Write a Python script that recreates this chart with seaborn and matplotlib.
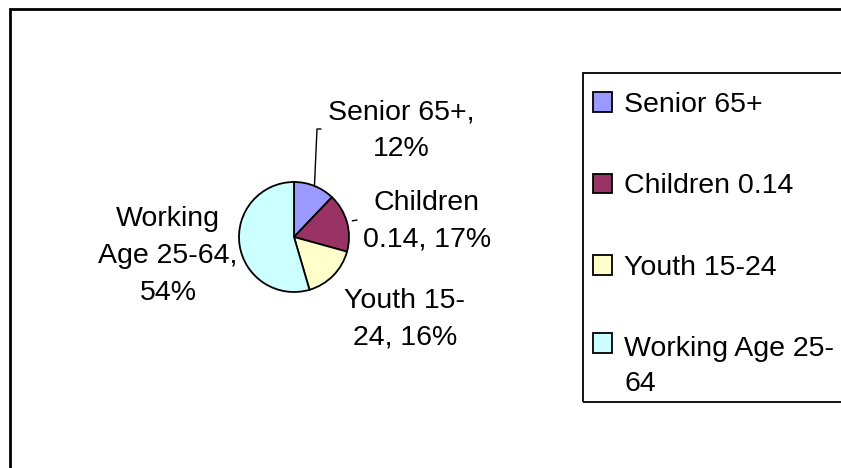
import matplotlib

matplotlib.use("Agg")
import matplotlib.pyplot as plt
import numpy as np
import seaborn as sns
from matplotlib.legend_handler import HandlerPatch
from matplotlib.patches import Rectangle

# population share by age group
groups = ["Senior 65+", "Children 0.14", "Youth 15-24", "Working Age 25-64"]
shares = [12, 17, 16, 54]
slice_labels = ["Senior 65+,\n12%", "Children\n0.14, 17%", "Youth 15-\n24, 16%", "Working\nAge 25-64,\n54%"]
legend_labels = ["Senior 65+", "Children 0.14", "Youth 15-24", "Working Age 25-\n64"]
colors = ["#9999FF", "#993366", "#FFFFCC", "#CCFFFF"]

sns.set_theme(style="white")
plt.rcParams["font.family"] = ["Liberation Sans", "DejaVu Sans"]

W, H = 841, 468
FS = 20.5
fig = plt.figure(figsize=(W / 100, H / 100), dpi=100)
ax = fig.add_axes([0, 0, 1, 1])

cx, cy, r = 294, H - 237, 55
wedges, _ = ax.pie(shares, colors=colors, startangle=90, counterclock=False,
                   center=(cx, cy), radius=r,
                   wedgeprops=dict(edgecolor="black", linewidth=1.3))
ax.set_xlim(0, W)
ax.set_ylim(0, H)
ax.set_aspect("auto")
ax.axis("off")

# data labels (text block centres, y measured from the top)
label_pos = [(401, 131), (427, 221), (405, 319), (168, 256)]
for text, (x, y) in zip(slice_labels, label_pos):
    ax.text(x, H - y, text, ha="center", va="center", fontsize=FS,
            linespacing=1.55, color="black")


def edge_point(w, scale=1.0):
    mid = np.deg2rad((w.theta1 + w.theta2) / 2)
    return cx + scale * r * np.cos(mid), cy + scale * r * np.sin(mid)


# leader lines
x0, y0 = edge_point(wedges[0])
ax.plot([x0, 317, 317, 321], [y0, H - 129, H - 129, H - 129], color="black", lw=1)
x1, y1 = edge_point(wedges[1], 1.1)
ax.plot([x1, 357], [y1, H - 220], color="black", lw=1)

# outer chart border (runs off the right and bottom edges)
ax.add_patch(Rectangle((10, -20), W + 20, H - 9 + 20, fill=False,
                       edgecolor="black", lw=2, clip_on=False))
# legend box, also cut off by the right edge
ax.add_patch(Rectangle((583, H - 402), 300, 402 - 73, fill=False,
                       edgecolor="black", lw=1.3, clip_on=False))


def top_line_square(legend, orig_handle, xdescent, ydescent, width, height, fontsize):
    # keep the key square level with the first line of a wrapped label
    n_lines = orig_handle.get_label().count("\n") + 1
    shift = 0.5 * (n_lines - 1) * 1.45 * fontsize * 1.15
    return Rectangle((-xdescent, -ydescent + shift), width, height)


for w, lab in zip(wedges, legend_labels):
    w.set_label(lab)

leg = ax.legend(handles=wedges, loc="upper left",
                bbox_to_anchor=(580 / W, 1 - 79 / H), bbox_transform=fig.transFigure,
                frameon=False, borderaxespad=0, fontsize=FS,
                labelcolor="black", labelspacing=1.95, handlelength=0.68,
                handleheight=0.68, handletextpad=0.42, borderpad=0.45,
                handler_map={w: HandlerPatch(patch_func=top_line_square) for w in wedges})
for t in leg.get_texts():
    t.set_linespacing(1.45)

fig.savefig("out.png", dpi=100, facecolor="white")
